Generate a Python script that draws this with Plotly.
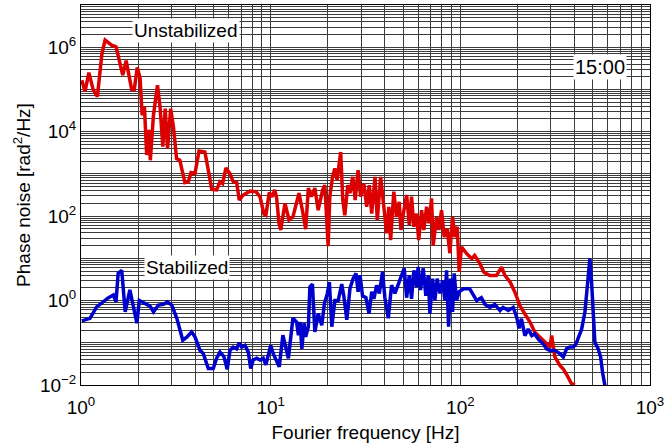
import plotly.graph_objects as go

# ---- Data (frequency in Hz, phase noise in rad^2/Hz) ----
unstab_freq = [1.01, 1.05, 1.10, 1.16, 1.22, 1.29, 1.34, 1.45, 1.53, 1.66, 1.73, 1.85, 1.91, 1.98,
               2.05, 2.10, 2.16, 2.22, 2.28, 2.32, 2.41, 2.53, 2.61, 2.70, 2.78, 2.86, 2.97, 3.07,
               3.19, 3.32, 3.53, 3.68, 3.80, 3.99, 4.19, 4.50, 4.69, 4.89, 5.19, 5.40, 5.58, 5.81,
               6.10, 6.35, 6.62, 6.83, 7.17, 7.78, 8.36, 8.78, 9.22, 9.44, 9.83, 10.2, 10.5, 10.75,
               11.06, 11.3, 11.9, 12.5, 13.1, 13.7, 14.1, 14.7, 15.3, 15.8, 16.4, 17.1, 17.8, 18.8,
               19.3, 20.1, 20.5, 21.2, 21.8, 22.4, 23.4, 24.0, 24.6, 25.5, 26.2, 27.1, 27.9, 28.9,
               29.8, 31.0, 32.1, 33.1, 34.1, 35.5, 36.5, 38.0, 39.2, 40.9, 42.0, 42.9, 44.6, 46.1,
               47.6, 48.6, 50.4, 52.1, 53.8, 55.3, 56.9, 58.8, 60.3, 62.5, 64.2, 66.4, 68.5, 70.5,
               71.9, 75.0, 77.1, 79.6, 82.2, 85.2, 88.1, 91.0, 93.6, 96.3, 98.6, 101.5, 108, 115,
               119, 127, 133, 143, 155, 165, 172, 183, 194, 206, 219, 233, 247, 263, 279, 297, 303,
               315, 335, 349, 366, 386, 402]
unstab_noise = [1.66e5, 8.9e4, 2.5e5, 9.8e4, 6.8e4, 7.2e5, 1.48e6, 1.12e6, 1.02e6, 2.19e5, 4.8e5,
                1.0e5, 1.0e5, 3.3e5, 1.82e5, 2.45e4, 3.9e4, 2.8e3, 1.1e4, 2.1e3, 2.45e4, 1.26e5,
                3.9e4, 4.4e3, 3.5e4, 4.0e3, 3.5e4, 1.32e4, 2.3e3, 2.1e3, 620, 650, 1.07e3, 1.02e3,
                3.5e3, 3.3e3, 1.23e3, 430, 420, 650, 590, 1.38e3, 1.02e3, 650, 620, 240, 316, 390,
                380, 290, 112, 105, 360, 290, 420, 270, 68, 47, 200, 81, 95, 240, 350, 138, 49,
                460, 290, 460, 138, 420, 540, 19.5, 290, 850, 1.35e3, 710, 3.3e3, 240, 105, 540,
                350, 850, 240, 1.23e3, 290, 590, 166, 540, 115, 850, 81, 850, 263, 39, 166, 27,
                380, 95, 219, 47, 138, 316, 62, 290, 56, 115, 27, 138, 47, 166, 68, 263, 20, 95,
                47, 138, 32, 51, 13.2, 95, 32, 56, 4.8, 18.6, 12.9, 9.8, 11.7, 7.4, 4.7, 3.9, 3.9,
                6.2, 3.9, 2.75, 1.58, 0.76, 0.48, 0.31, 0.178, 0.135, 0.102, 0.079, 0.148, 0.046,
                0.029, 0.024, 0.0166, 0.0107, 0.0100]

stab_freq = [1.01, 1.115, 1.21, 1.29, 1.39, 1.48, 1.53, 1.57, 1.64, 1.71, 1.81, 1.89, 1.97, 2.03,
             2.18, 2.31, 2.41, 2.56, 2.72, 2.85, 3.01, 3.20, 3.44, 3.61, 3.83, 3.99, 4.24, 4.41,
             4.69, 4.98, 5.19, 5.40, 5.67, 5.90, 6.10, 6.35, 6.62, 6.83, 7.03, 7.32, 7.62, 7.85,
             8.09, 8.44, 8.78, 9.14, 9.44, 10.0, 10.3, 11.1, 11.6, 11.9, 12.4, 13.1, 13.7, 14.0,
             14.3, 14.6, 15.0, 15.3, 15.8, 16.1, 16.6, 17.1, 17.8, 18.6, 19.2, 19.9, 20.4, 21.0,
             21.8, 22.7, 23.7, 24.3, 25.2, 26.2, 27.2, 28.2, 28.9, 29.6, 30.5, 31.8, 33.0, 34.1,
             35.0, 36.2, 37.4, 38.9, 40.0, 41.7, 43.4, 45.2, 47.1, 49.0, 50.6, 52.1, 53.8, 55.3,
             56.9, 58.8, 59.9, 61.7, 63.7, 65.8, 67.7, 69.1, 71.4, 73.4, 75.5, 78.0, 80.6, 82.9,
             84.6, 86.7, 88.8, 91.0, 92.8, 95.5, 98.6, 104, 112, 122, 129, 135, 143, 152, 162,
             168, 179, 190, 198, 204, 210, 219, 228, 238, 247, 257, 274, 285, 297, 315, 335, 349,
             363, 378, 394, 407, 418, 436, 454, 467, 482, 492, 502, 512, 533, 549, 562, 578]
stab_noise = [0.33, 0.38, 0.71, 0.89, 1.15, 1.35, 0.93, 4.4, 5.2, 0.54, 1.78, 0.71, 0.29, 1.0,
              0.85, 0.74, 0.54, 0.78, 0.81, 0.93, 0.78, 0.38, 0.115, 0.135, 0.18, 0.138, 0.066,
              0.056, 0.0245, 0.0245, 0.043, 0.060, 0.047, 0.0234, 0.066, 0.079, 0.072, 0.10,
              0.079, 0.087, 0.060, 0.0245, 0.039, 0.043, 0.039, 0.043, 0.030, 0.087, 0.056, 0.027,
              0.151, 0.087, 0.043, 0.38, 0.31, 0.151, 0.31, 0.072, 0.29, 0.138, 0.24, 2.1, 2.45,
              0.18, 0.49, 0.26, 0.85, 1.48, 2.75, 0.24, 1.0, 1.0, 2.45, 1.29, 0.35, 1.95, 3.3,
              4.4, 1.62, 4.0, 1.29, 1.17, 0.49, 1.62, 1.10, 2.3, 1.48, 4.8, 1.17, 0.38, 2.3, 1.48,
              2.45, 3.6, 5.8, 1.17, 4.0, 1.10, 5.2, 2.1, 6.3, 1.78, 5.8, 1.29, 4.0, 0.49, 3.3, 1.0,
              3.3, 1.48, 3.0, 1.0, 5.2, 0.24, 3.3, 0.54, 4.4, 1.0, 1.62, 1.9, 1.9, 1.0, 1.17, 0.81,
              0.69, 0.81, 0.58, 0.69, 0.58, 0.69, 0.41, 0.22, 0.37, 0.148, 0.21, 0.148, 0.162,
              0.123, 0.093, 0.072, 0.066, 0.066, 0.055, 0.046, 0.072, 0.079, 0.079, 0.093, 0.135,
              0.21, 0.54, 1.9, 9.8, 2.75, 0.45, 0.102, 0.072, 0.046, 0.020, 0.0098]

x_decades = [0, 1, 2, 3]
y_decades = [-2, -1, 0, 1, 2, 3, 4, 5, 6, 7]
y_labeled = [-2, 0, 2, 4, 6]


def exp_label(e):
    s = str(e).replace("-", "\u2212")
    return "10<sup>" + s + "</sup>"


# grid values: every digit of every decade; labels on selected decades
def grid(decs, labeled):
    vals, text = [], []
    for d in decs:
        for m in range(1, 10):
            if d == decs[-1] and m > 1:
                break
            vals.append(m * 10.0 ** d)
            text.append(exp_label(d) if (m == 1 and d in labeled) else "")
    return vals, text


xv, xt = grid(x_decades, x_decades)
yv, yt = grid(y_decades, y_labeled)

fig = go.Figure()
fig.add_trace(go.Scatter(x=unstab_freq, y=unstab_noise, mode="lines",
                         line=dict(color="#dd0000", width=3.5), name="Unstabilized"))
fig.add_trace(go.Scatter(x=stab_freq, y=stab_noise, mode="lines",
                         line=dict(color="#0000cc", width=3.5), name="Stabilized"))

font_family = "Liberation Sans, Arial, sans-serif"
grid_color = "#3c3c3c"

fig.update_layout(
    width=665, height=444,
    margin=dict(l=81, r=15, t=5, b=59),
    paper_bgcolor="white", plot_bgcolor="white",
    showlegend=False,
    font=dict(family=font_family, size=18, color="black"),
    xaxis=dict(type="log", range=[0, 3], tickmode="array", tickvals=xv, ticktext=xt,
               showgrid=True, gridcolor=grid_color, gridwidth=1, ticks="",
               showline=True, linecolor="black", linewidth=1, mirror=True, zeroline=False,
               tickfont=dict(size=19), automargin=False, ticklabelstandoff=5,
               title=dict(text="Fourier frequency [Hz]", font=dict(size=19), standoff=8)),
    yaxis=dict(type="log", range=[-2, 7], tickmode="array", tickvals=yv, ticktext=yt,
               showgrid=True, gridcolor=grid_color, gridwidth=1, ticks="",
               showline=True, linecolor="black", linewidth=1, mirror=True, zeroline=False,
               tickfont=dict(size=19), automargin=False,
               title=dict(text="Phase noise [rad<sup>2</sup>/Hz]", font=dict(size=19), standoff=4)),
    annotations=[
        dict(text="Unstabilized", xref="paper", yref="paper", x=0.185, y=0.932,
             xanchor="center", yanchor="middle",
             showarrow=False, bgcolor="white", font=dict(size=19), borderpad=1),
        dict(text="Stabilized", xref="paper", yref="paper", x=0.186, y=0.308,
             xanchor="center", yanchor="middle",
             showarrow=False, bgcolor="white", font=dict(size=19), borderpad=1),
        dict(text="15:00", xref="paper", yref="paper", x=0.913, y=0.838,
             xanchor="center", yanchor="middle",
             showarrow=False, bgcolor="white", font=dict(size=20), borderpad=1),
    ],
)

fig.write_html("out.html", config={"displayModeBar": False},
               post_script="document.body.style.margin='0';document.body.style.overflow='hidden';")
